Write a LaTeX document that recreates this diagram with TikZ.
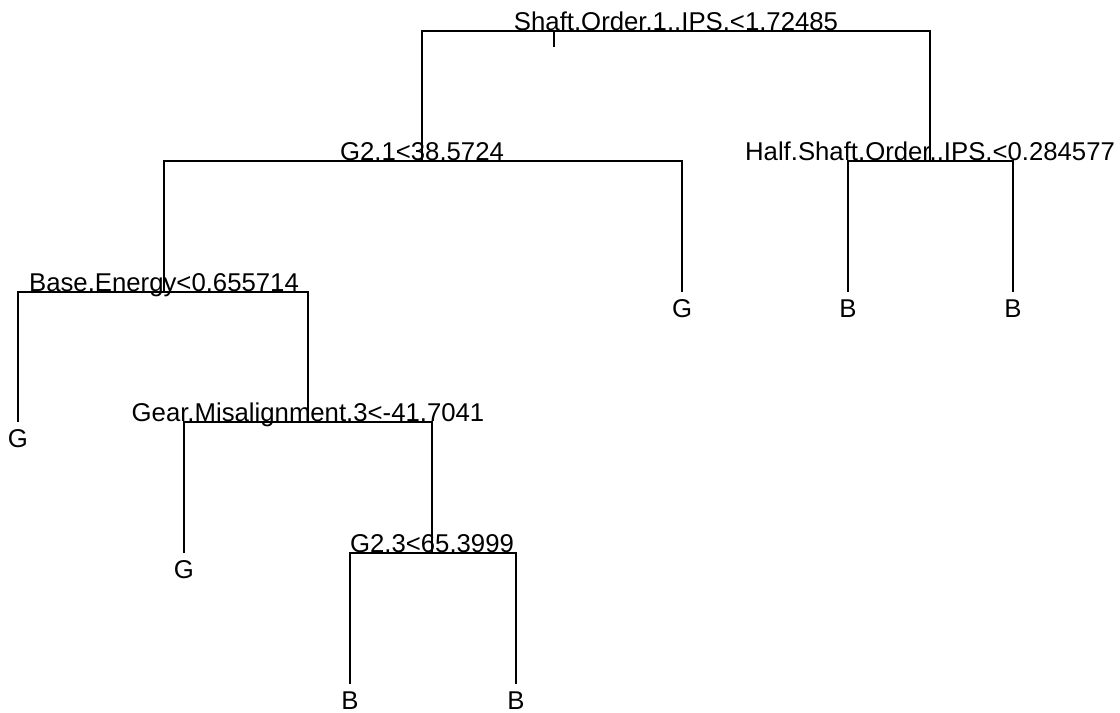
\documentclass[tikz,border=0pt]{standalone}
\usepackage{fontspec}
\setmainfont{Liberation Sans}
\usepackage{tikz}

\begin{document}
\begin{tikzpicture}[x=0.75pt, y=-0.75pt, line width=1pt,
    split/.style={anchor=base, inner sep=0pt, yshift=0.6pt, font=\fontsize{19.3}{23}\selectfont},
    leaf/.style={anchor=base, inner sep=0pt, yshift=-19pt, font=\fontsize{19.3}{23}\selectfont}]
    \useasboundingbox (0,0) rectangle (1120,713);

    \coordinate (root) at (676, 31);
    \coordinate (g21) at (422, 161);
    \coordinate (half) at (930, 161);
    \coordinate (base) at (164, 292);
    \coordinate (gear) at (308, 422);
    \coordinate (g23) at (432, 553);
    \coordinate (tick) at (554, 47);

    \coordinate (leafA) at (18, 422);
    \coordinate (leafB) at (184, 553);
    \coordinate (leafC) at (350, 684);
    \coordinate (leafD) at (516, 684);
    \coordinate (leafE) at (682, 292);
    \coordinate (leafF) at (848, 292);
    \coordinate (leafG) at (1013, 292);

    \node[split] (troot) at (root) {Shaft.Order.1..IPS.<1.72485};
    \node[split] (tg21) at (g21) {G2.1<38.5724};
    \node[split] (thalf) at (half) {Half.Shaft.Order..IPS.<0.284577};
    \node[split] (tbase) at (base) {Base.Energy<0.655714};
    \node[split] (tgear) at (gear) {Gear.Misalignment.3<-41.7041};
    \node[split] (tg23) at (g23) {G2.3<65.3999};

    \node[leaf] (tleafA) at (leafA) {G};
    \node[leaf] (tleafB) at (leafB) {G};
    \node[leaf] (tleafC) at (leafC) {B};
    \node[leaf] (tleafD) at (leafD) {B};
    \node[leaf] (tleafE) at (leafE) {G};
    \node[leaf] (tleafF) at (leafF) {B};
    \node[leaf] (tleafG) at (leafG) {B};

    \draw (tick) -- (tick |- root);
    \draw (g21) -- (g21 |- root) -- (half |- root) -- (half);
    \draw (base) -- (base |- g21) -- (leafE |- g21) -- (leafE);
    \draw (leafF) -- (leafF |- half) -- (leafG |- half) -- (leafG);
    \draw (leafA) -- (leafA |- base) -- (gear |- base) -- (gear);
    \draw (leafB) -- (leafB |- gear) -- (g23 |- gear) -- (g23);
    \draw (leafC) -- (leafC |- g23) -- (leafD |- g23) -- (leafD);
\end{tikzpicture}
\end{document}
